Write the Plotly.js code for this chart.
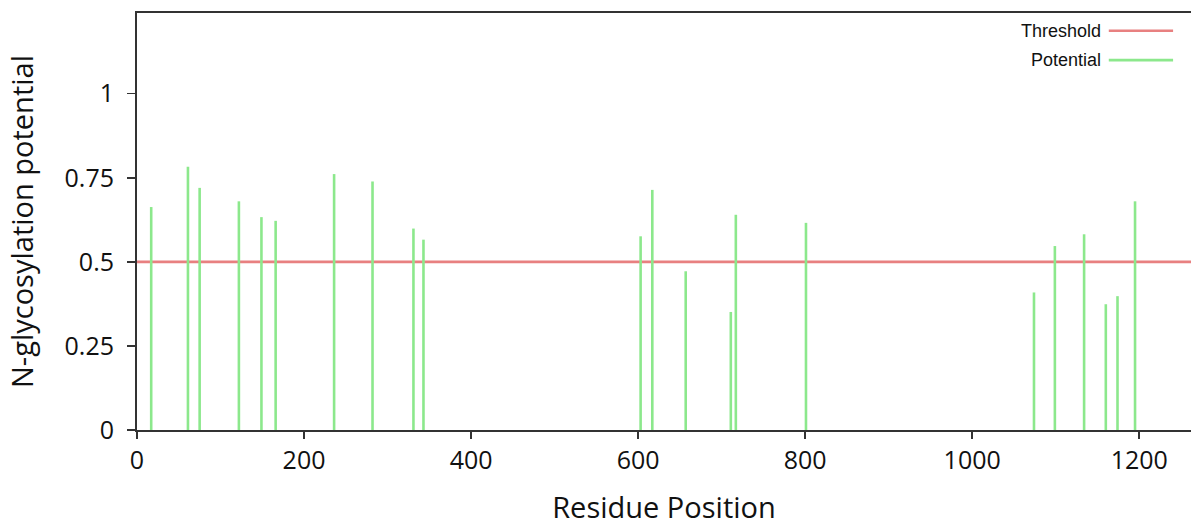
<!DOCTYPE html>
<html>
<head>
<meta charset="utf-8">
<script src="https://cdn.plot.ly/plotly-3.0.1.min.js"></script>
<style>html,body{margin:0;padding:0;background:#fff;}#chart{width:1191px;height:526px;}</style>
</head>
<body>
<div id="chart"></div>
<script>
// Data
const residuePositions = [17, 61, 75, 122, 149, 166, 236, 282, 331, 343, 603, 617, 657, 711, 717, 801, 1074, 1099, 1134, 1160, 1174, 1195];
const potentials = [0.663, 0.783, 0.720, 0.680, 0.633, 0.622, 0.761, 0.739, 0.599, 0.566, 0.576, 0.714, 0.472, 0.351, 0.640, 0.616, 0.409, 0.547, 0.582, 0.374, 0.398, 0.680];
const threshold = 0.5;
const xTickVals = [0, 200, 400, 600, 800, 1000, 1200];
const xTickText = ["0", "200", "400", "600", "800", "1000", "1200"];
const yTickVals = [0, 0.25, 0.5, 0.75, 1];
const yTickText = ["0", "0.25", "0.5", "0.75", "1"];
const legendNames = ["Threshold", "Potential"];

const redCol = "rgb(232,128,128)";
const greenCol = "rgb(140,232,140)";

// Build vertical stems from the data
const sx = [], sy = [];
residuePositions.forEach((p, i) => { sx.push(p, p, null); sy.push(0, potentials[i], null); });

const traces = [{
  type: "scatter", mode: "lines", x: sx, y: sy,
  line: {color: greenCol, width: 2.6}, hoverinfo: "skip", showlegend: false, connectgaps: false
}];

const font = "Open Sans, sans-serif";
const legFont = {family: "Liberation Sans, Arial, sans-serif", size: 18, color: "#111"};
const layout = {
  width: 1191, height: 526,
  margin: {l: 137, r: 0, t: 13, b: 96},
  paper_bgcolor: "#fff", plot_bgcolor: "#fff",
  showlegend: false,
  xaxis: {
    range: [0, 1262], tickvals: xTickVals, ticktext: xTickText,
    showgrid: false, zeroline: false, showline: true, mirror: true,
    linecolor: "#333", linewidth: 2, ticks: "outside", ticklen: 7, tickwidth: 1.5, tickcolor: "#333",
    tickfont: {family: font, size: 25, color: "#111"},
    title: {text: "Residue Position", font: {family: font, size: 29, color: "#111"}, standoff: 27}
  },
  yaxis: {
    range: [0, 1.24], tickvals: yTickVals, ticktext: yTickText,
    showgrid: false, zeroline: false, showline: true, mirror: false,
    linecolor: "#333", linewidth: 2, ticks: "outside", ticklen: 8, tickwidth: 1.5, tickcolor: "#333",
    ticklabelstandoff: 8,
    tickfont: {family: font, size: 25, color: "#111"},
    title: {text: "N-glycosylation potential", font: {family: font, size: 29, color: "#111"}, standoff: 22}
  },
  shapes: [
    {type: "line", xref: "paper", yref: "y", x0: 0, x1: 1, y0: threshold, y1: threshold,
     line: {color: redCol, width: 2.6}, layer: "below"},
    {type: "line", xref: "paper", yref: "paper", x0: 0.922, x1: 0.983, y0: 0.9576, y1: 0.9576,
     line: {color: redCol, width: 2.6}},
    {type: "line", xref: "paper", yref: "paper", x0: 0.922, x1: 0.983, y0: 0.887, y1: 0.887,
     line: {color: greenCol, width: 2.6}}
  ],
  annotations: [
    {xref: "paper", yref: "paper", x: 0.9165, y: 0.9576, xanchor: "right", yanchor: "middle",
     text: legendNames[0], showarrow: false, font: legFont},
    {xref: "paper", yref: "paper", x: 0.9165, y: 0.887, xanchor: "right", yanchor: "middle",
     text: legendNames[1], showarrow: false, font: legFont}
  ]
};

Plotly.newPlot("chart", traces, layout, {displayModeBar: false, staticPlot: true});
</script>
</body>
</html>
